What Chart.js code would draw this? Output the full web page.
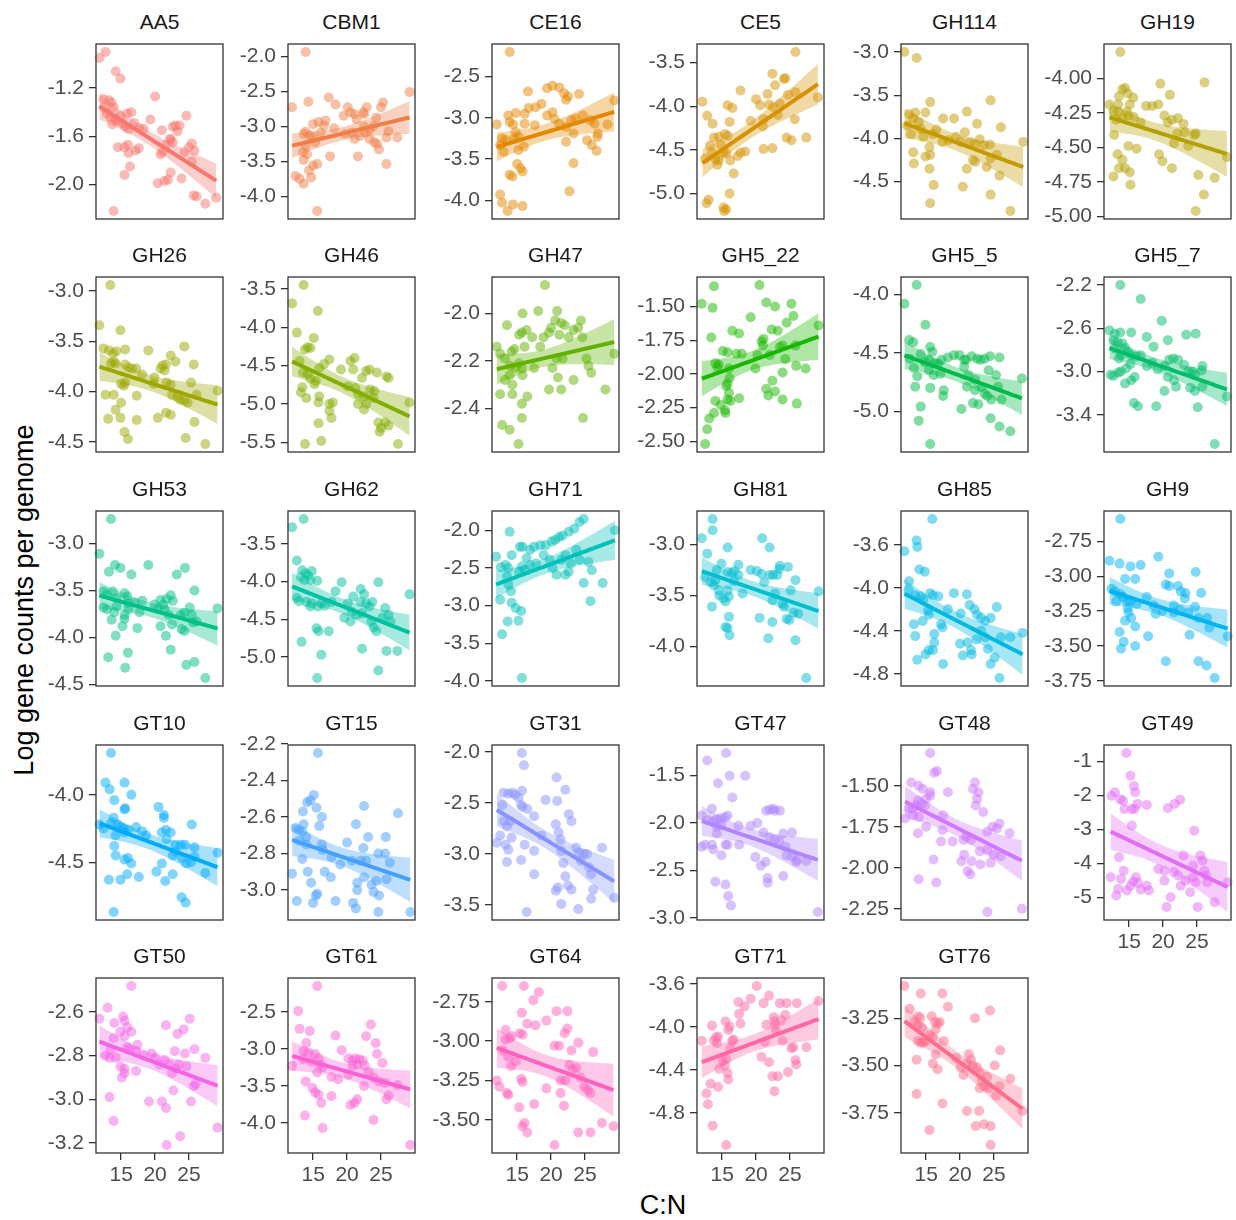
<!DOCTYPE html>
<html lang="en">
<head>
<meta charset="UTF-8">
<title>Log gene counts per genome vs C:N</title>
<script src="https://cdn.jsdelivr.net/npm/chart.js"></script>
<style>
  body { margin: 0; background: #ffffff; font-family: "Liberation Sans", Arial, sans-serif; }
  #page { position: relative; width: 1236px; height: 1220px; overflow: hidden; background: #ffffff; }
  #page canvas { position: absolute; }
  .strip { position: absolute; text-align: center; font-size: 21px; color: #1a1a1a; height: 26px; line-height: 26px; }
  .axis-title { position: absolute; font-size: 27px; color: #000000; white-space: nowrap; transform: translate(-50%, -50%); }
  #ytitle { transform: translate(-50%, -50%) rotate(-90deg); }
</style>
</head>
<body>
<div id="page">
  <div class="axis-title" id="ytitle" style="left:24px; top:600px;">Log gene counts per genome</div>
  <div class="axis-title" style="left:663px; top:1205px;">C:N</div>
</div>
<script>
// gene families, one panel each (facet order)
const panelNames = ['AA5', 'CBM1', 'CE16', 'CE5', 'GH114', 'GH19', 'GH26', 'GH46', 'GH47', 'GH5_22',
  'GH5_5', 'GH5_7', 'GH53', 'GH62', 'GH71', 'GH81', 'GH85', 'GH9', 'GT10', 'GT15', 'GT31', 'GT47',
  'GT48', 'GT49', 'GT50', 'GT61', 'GT64', 'GT71', 'GT76'];

// [C:N, log gene count per genome]
const aa5 = [[11.8,-0.95],[12.7,-0.90],[14.2,-1.06],[14.9,-1.12],[20.0,-1.27],[12.4,-1.29],[13.2,-1.30],[13.6,-1.32],[13.9,-1.36],[12.5,-1.36],[12.9,-1.41],[13.4,-1.44],[14.1,-1.45],[14.9,-1.43],[14.3,-1.47],[13.7,-1.50],[15.2,-1.49],[15.9,-1.41],[16.5,-1.40],[15.6,-1.52],[16.1,-1.54],[16.9,-1.49],[18.3,-1.54],[19.3,-1.46],[17.7,-1.53],[16.0,-1.67],[17.1,-1.72],[17.6,-1.70],[15.5,-1.69],[14.5,-1.69],[16.1,-1.74],[16.3,-1.85],[15.5,-1.92],[21.0,-1.55],[22.2,-1.62],[22.6,-1.52],[23.0,-1.51],[23.6,-1.51],[24.6,-1.43],[22.6,-1.65],[22.3,-1.63],[21.6,-1.67],[21.1,-1.73],[20.4,-1.99],[21.4,-1.97],[22.3,-1.90],[21.9,-1.96],[23.9,-1.95],[24.3,-1.73],[25.0,-1.69],[25.4,-1.66],[25.8,-1.72],[25.4,-1.81],[25.7,-2.09],[26.1,-2.10],[27.4,-2.16],[29.0,-2.11],[13.9,-2.22],[23.3,-1.56],[20.8,-1.75]];
const cbm1 = [[13.9,-1.94],[11.9,-2.73],[14.3,-2.65],[17.3,-2.59],[18.3,-2.69],[20.1,-2.73],[20.5,-2.80],[21.1,-2.83],[21.4,-2.90],[22.5,-2.83],[22.9,-2.73],[22.4,-2.80],[25.3,-2.66],[25.0,-2.73],[29.2,-2.51],[19.5,-2.85],[18.1,-3.03],[16.6,-2.99],[16.8,-2.92],[15.8,-2.94],[15.0,-2.97],[13.9,-3.08],[13.6,-3.11],[14.5,-3.13],[15.0,-3.16],[16.1,-3.09],[15.3,-3.23],[13.9,-3.28],[13.5,-3.37],[14.1,-3.40],[13.6,-3.48],[15.0,-3.56],[15.6,-3.54],[14.4,-3.63],[14.7,-3.73],[12.4,-3.71],[13.0,-3.75],[13.6,-3.82],[15.6,-4.21],[17.5,-3.43],[21.6,-3.43],[21.1,-3.18],[21.9,-3.14],[22.7,-3.09],[23.3,-3.05],[23.9,-3.00],[24.3,-2.88],[22.5,-3.00],[23.3,-3.18],[24.0,-3.23],[24.7,-3.33],[24.4,-3.25],[25.8,-3.16],[27.4,-3.16],[25.8,-3.54],[26.1,-3.07],[20.7,-3.09],[19.7,-3.11]];
const ce16 = [[13.9,-2.20],[12.0,-3.08],[16.6,-2.68],[19.4,-2.64],[20.2,-2.61],[21.2,-2.63],[21.9,-2.70],[22.5,-2.74],[22.2,-2.78],[24.1,-2.71],[16.7,-2.88],[17.7,-2.87],[18.6,-2.83],[14.8,-2.94],[13.7,-2.97],[16.1,-2.95],[13.9,-3.05],[14.4,-3.08],[16.1,-3.07],[17.6,-3.09],[19.4,-2.97],[20.2,-2.93],[20.5,-3.01],[21.2,-3.07],[22.2,-3.11],[23.0,-3.03],[23.6,-3.01],[24.7,-2.97],[25.8,-3.03],[26.4,-3.07],[26.9,-3.19],[28.3,-3.08],[29.3,-2.79],[12.8,-3.25],[13.3,-3.27],[12.5,-3.33],[13.0,-3.41],[14.6,-3.25],[14.8,-3.17],[15.2,-3.23],[16.0,-3.35],[15.2,-3.39],[22.2,-3.29],[23.3,-3.19],[25.3,-3.27],[26.0,-3.33],[26.7,-3.40],[26.8,-3.23],[15.0,-3.56],[15.5,-3.61],[15.8,-3.65],[13.9,-3.69],[14.3,-3.71],[23.3,-3.55],[22.7,-3.89],[12.5,-3.93],[12.8,-4.03],[13.6,-4.13],[14.4,-4.05],[15.8,-4.07]];
const ce5 = [[12.1,-3.95],[12.8,-4.11],[13.6,-4.20],[13.2,-4.45],[13.8,-4.36],[13.5,-4.53],[14.0,-4.60],[14.3,-4.67],[14.5,-4.62],[15.2,-4.53],[14.8,-4.44],[14.5,-4.35],[15.4,-4.32],[15.8,-4.34],[15.8,-3.99],[16.5,-4.02],[16.1,-4.18],[15.6,-4.54],[16.2,-4.62],[16.7,-4.77],[17.3,-4.57],[17.7,-4.53],[18.4,-4.52],[17.7,-3.82],[19.2,-4.17],[20.0,-3.92],[20.6,-3.99],[21.0,-4.23],[21.1,-4.15],[21.7,-3.86],[21.9,-3.98],[22.5,-4.01],[22.4,-3.63],[22.8,-3.76],[23.2,-4.10],[23.5,-3.97],[24.1,-3.69],[24.3,-3.68],[24.7,-3.87],[24.5,-4.36],[25.2,-4.39],[25.7,-4.15],[25.8,-3.84],[25.8,-3.38],[27.4,-4.36],[29.1,-3.90],[21.1,-4.49],[22.4,-4.48],[13.0,-5.07],[12.7,-5.11],[15.2,-5.16],[15.6,-5.18],[15.3,-5.20],[16.1,-5.00],[12.5,-4.60]];
const gh114 = [[11.8,-3.00],[13.6,-3.07],[12.5,-3.72],[13.4,-3.70],[15.6,-3.58],[13.1,-3.77],[13.9,-3.81],[14.9,-3.70],[12.2,-3.85],[12.8,-3.95],[14.2,-3.89],[14.6,-3.98],[16.0,-3.95],[16.5,-3.90],[17.5,-3.77],[19.1,-3.77],[21.0,-3.69],[18.3,-4.02],[20.1,-4.04],[20.7,-3.93],[22.5,-3.83],[21.5,-4.04],[22.2,-4.07],[22.9,-4.01],[23.5,-4.08],[24.4,-4.07],[24.5,-3.56],[26.0,-3.87],[29.3,-4.04],[13.1,-4.16],[13.2,-4.29],[14.9,-4.21],[15.6,-4.19],[15.5,-4.10],[15.5,-4.35],[16.1,-4.54],[15.6,-4.75],[21.0,-4.35],[21.9,-4.25],[22.2,-4.27],[23.9,-4.33],[24.5,-4.23],[25.4,-4.19],[25.8,-4.43],[24.5,-4.65],[20.4,-4.56],[27.4,-4.84],[17.4,-4.04],[19.4,-3.98]];
const gh19 = [[13.7,-3.81],[12.1,-4.19],[12.7,-4.24],[13.5,-4.13],[14.0,-4.08],[14.4,-4.07],[14.8,-4.11],[15.1,-4.19],[15.6,-4.14],[14.7,-4.24],[13.4,-4.24],[14.0,-4.29],[13.1,-4.30],[12.8,-4.41],[14.9,-4.27],[15.7,-4.28],[16.7,-4.32],[17.5,-4.20],[18.4,-4.20],[19.3,-4.19],[19.6,-4.04],[21.0,-4.12],[20.2,-4.27],[20.7,-4.32],[21.3,-4.30],[22.2,-4.29],[23.0,-4.33],[22.1,-4.40],[21.6,-4.47],[23.2,-4.39],[24.6,-4.41],[26.1,-4.03],[24.8,-4.40],[23.7,-4.49],[13.3,-4.55],[14.9,-4.49],[16.1,-4.51],[14.0,-4.59],[14.4,-4.65],[13.5,-4.65],[12.7,-4.71],[15.1,-4.68],[15.2,-4.77],[19.9,-4.60],[19.4,-4.55],[21.3,-4.65],[25.2,-4.70],[26.0,-4.84],[24.8,-4.96],[27.6,-4.72],[29.4,-4.57],[13.4,-4.19]];
const gh26 = [[13.4,-2.94],[11.8,-3.34],[12.4,-3.57],[13.2,-3.59],[13.8,-3.62],[14.3,-3.60],[14.9,-3.39],[15.6,-3.58],[13.5,-3.72],[13.9,-3.70],[14.2,-3.72],[15.6,-3.73],[16.1,-3.76],[16.6,-3.77],[17.2,-3.77],[18.1,-3.83],[19.0,-3.59],[19.9,-3.86],[20.8,-3.77],[21.1,-3.74],[21.4,-3.79],[21.6,-3.73],[22.3,-3.64],[23.0,-3.70],[24.3,-3.55],[25.7,-3.73],[15.0,-3.92],[15.6,-3.91],[15.4,-3.94],[12.7,-4.03],[13.9,-4.03],[15.0,-4.11],[17.3,-4.04],[19.8,-3.92],[21.7,-3.91],[22.3,-3.93],[22.5,-4.03],[23.3,-4.05],[23.7,-4.08],[24.3,-4.09],[24.8,-4.11],[25.3,-3.91],[26.1,-4.03],[29.2,-3.99],[13.1,-4.27],[14.2,-4.18],[14.9,-4.26],[17.3,-4.28],[20.4,-4.26],[21.6,-4.21],[22.3,-4.23],[25.8,-4.30],[15.5,-4.40],[16.0,-4.47],[24.5,-4.46],[27.4,-4.52]];
const gh46 = [[11.9,-3.69],[13.6,-3.45],[12.6,-4.07],[15.7,-3.79],[15.1,-4.14],[13.8,-4.29],[14.2,-4.26],[14.6,-4.27],[13.0,-4.44],[13.5,-4.59],[14.2,-4.61],[14.6,-4.67],[15.4,-4.70],[15.2,-4.74],[15.9,-4.53],[16.6,-4.48],[17.4,-4.42],[13.4,-4.78],[13.2,-4.85],[14.0,-4.92],[15.9,-4.90],[15.8,-4.98],[17.4,-5.00],[17.9,-4.98],[17.4,-5.09],[17.7,-5.18],[15.8,-5.25],[16.2,-5.48],[13.8,-5.52],[19.1,-4.55],[20.9,-4.55],[21.1,-4.40],[20.1,-4.77],[21.2,-4.79],[21.6,-4.87],[21.6,-5.00],[22.5,-4.90],[22.8,-4.57],[23.3,-4.55],[22.2,-4.66],[23.4,-4.81],[23.9,-4.92],[22.8,-5.00],[22.5,-5.07],[24.4,-4.59],[25.8,-4.64],[26.1,-4.66],[24.0,-4.83],[24.6,-5.24],[25.0,-5.31],[25.6,-5.24],[26.1,-5.28],[24.8,-5.36],[27.5,-5.52],[29.2,-4.98],[20.5,-4.44]];
const gh47 = [[19.1,-1.88],[12.0,-2.14],[13.5,-2.05],[12.5,-2.17],[14.2,-2.16],[14.6,-2.15],[15.8,-2.00],[15.7,-2.08],[15.3,-2.09],[16.4,-2.07],[17.2,-2.10],[18.1,-1.99],[16.1,-2.14],[15.3,-2.21],[14.8,-2.23],[14.0,-2.22],[13.2,-2.19],[13.9,-2.26],[13.2,-2.28],[14.3,-2.30],[12.5,-2.34],[14.3,-2.34],[15.7,-2.23],[15.8,-2.26],[16.5,-2.35],[15.7,-2.38],[15.7,-2.44],[12.8,-2.47],[13.9,-2.49],[15.2,-2.55],[17.5,-2.23],[18.4,-2.14],[18.9,-2.10],[19.7,-2.08],[20.0,-2.06],[20.6,-2.03],[20.9,-1.99],[21.5,-2.04],[22.0,-2.05],[21.2,-2.09],[20.8,-2.19],[20.2,-2.23],[21.0,-2.27],[21.7,-2.19],[19.7,-2.32],[21.5,-2.32],[22.6,-2.10],[23.3,-2.07],[24.0,-2.06],[24.4,-2.03],[24.6,-2.10],[25.2,-2.19],[25.5,-2.22],[25.9,-2.25],[24.7,-2.44],[23.3,-2.28],[28.0,-2.32],[29.3,-2.17]];
const gh5_22 = [[12.0,-1.48],[13.8,-1.35],[13.6,-1.51],[20.5,-1.34],[13.4,-1.73],[16.5,-1.68],[17.5,-1.70],[19.2,-1.58],[21.5,-1.47],[22.8,-1.50],[25.2,-1.48],[25.5,-1.57],[24.5,-1.62],[23.2,-1.68],[22.3,-1.67],[21.1,-1.74],[20.8,-1.76],[21.0,-1.79],[20.2,-1.86],[22.0,-1.86],[23.5,-1.80],[23.9,-1.79],[24.3,-1.89],[25.8,-1.79],[25.9,-1.94],[29.2,-1.64],[15.1,-1.83],[15.8,-1.84],[17.1,-1.85],[17.9,-1.85],[14.0,-1.92],[14.3,-1.95],[14.5,-1.93],[16.0,-1.96],[16.1,-2.03],[15.8,-2.07],[15.6,-2.09],[16.0,-2.14],[15.8,-2.19],[14.0,-2.20],[14.8,-2.23],[15.4,-2.27],[16.2,-2.20],[17.5,-2.18],[19.9,-1.96],[22.4,-2.05],[21.5,-2.11],[21.8,-2.16],[22.8,-2.13],[23.9,-2.19],[23.9,-1.99],[26.0,-2.22],[27.3,-1.96],[13.8,-2.29],[13.1,-2.33],[12.8,-2.41],[12.5,-2.52],[15.5,-2.29]];
const gh5_5 = [[11.8,-4.08],[13.6,-3.92],[14.9,-4.26],[12.5,-4.39],[13.1,-4.41],[14.2,-4.51],[15.6,-4.45],[15.9,-4.49],[12.6,-4.55],[13.2,-4.63],[13.7,-4.70],[13.4,-4.79],[14.8,-4.58],[15.4,-4.56],[16.2,-4.59],[16.8,-4.59],[17.3,-4.56],[18.2,-4.54],[19.1,-4.52],[19.9,-4.52],[20.6,-4.56],[20.9,-4.56],[21.7,-4.53],[22.5,-4.55],[23.0,-4.56],[23.6,-4.55],[24.4,-4.53],[25.8,-4.54],[15.4,-4.65],[16.1,-4.69],[17.1,-4.68],[20.6,-4.62],[21.2,-4.69],[22.2,-4.73],[21.0,-4.79],[22.2,-4.82],[23.2,-4.79],[24.2,-4.65],[25.3,-4.69],[25.6,-4.79],[23.6,-4.85],[24.0,-4.87],[24.6,-4.90],[26.1,-4.90],[15.6,-4.80],[17.6,-4.82],[17.5,-4.87],[20.2,-4.98],[21.9,-4.93],[22.7,-4.94],[14.2,-4.96],[13.9,-5.08],[15.6,-5.28],[24.5,-5.06],[25.8,-5.13],[27.4,-5.17],[29.1,-4.72]];
const gh5_7 = [[13.7,-2.20],[16.7,-2.33],[12.1,-2.62],[12.9,-2.65],[13.7,-2.64],[15.3,-2.64],[12.7,-2.71],[13.3,-2.73],[14.0,-2.74],[14.4,-2.78],[14.8,-2.82],[13.0,-2.79],[13.8,-2.85],[13.5,-2.88],[15.3,-2.85],[16.0,-2.86],[16.7,-2.85],[17.6,-2.68],[18.6,-2.77],[19.8,-2.53],[20.7,-2.71],[23.4,-2.66],[24.8,-2.65],[12.7,-3.04],[12.3,-3.03],[13.4,-3.01],[13.8,-3.00],[14.6,-2.97],[15.2,-2.93],[14.4,-3.11],[15.3,-3.08],[15.8,-3.05],[15.7,-3.29],[16.3,-3.32],[17.6,-2.95],[18.4,-2.92],[19.2,-2.98],[20.2,-2.95],[20.9,-2.89],[21.5,-2.88],[22.2,-2.89],[20.7,-3.05],[21.6,-3.08],[21.9,-3.14],[20.2,-3.18],[19.0,-3.32],[23.1,-2.94],[23.7,-3.00],[24.3,-3.00],[24.7,-3.03],[25.7,-2.99],[25.8,-2.95],[24.0,-3.15],[24.7,-3.18],[25.1,-3.33],[25.8,-3.14],[29.4,-3.23],[27.6,-3.67]];
const gh53 = [[11.8,-3.11],[13.5,-2.74],[13.2,-3.30],[14.1,-3.23],[14.9,-3.26],[16.5,-3.33],[19.0,-3.23],[23.2,-3.33],[24.4,-3.26],[25.8,-3.50],[12.4,-3.51],[12.9,-3.54],[13.8,-3.51],[14.3,-3.58],[15.5,-3.53],[15.9,-3.56],[12.4,-3.68],[12.9,-3.70],[14.0,-3.73],[13.6,-3.81],[14.3,-3.67],[16.0,-3.63],[16.1,-3.70],[15.5,-3.76],[15.5,-3.80],[15.2,-3.88],[14.2,-3.98],[17.0,-3.63],[17.7,-3.73],[18.1,-3.61],[19.9,-3.65],[20.4,-3.69],[20.8,-3.60],[21.2,-3.65],[21.7,-3.59],[22.3,-3.55],[22.6,-3.61],[21.4,-3.70],[22.0,-3.76],[20.8,-3.88],[21.6,-3.98],[22.5,-3.86],[23.8,-3.76],[24.3,-3.74],[25.1,-3.68],[25.4,-3.76],[23.9,-3.91],[24.3,-3.93],[25.6,-3.84],[26.1,-3.83],[29.2,-3.69],[17.4,-3.90],[13.1,-4.21],[16.0,-4.16],[15.6,-4.32],[22.3,-4.13],[24.6,-4.29],[25.8,-4.26],[27.4,-4.43]];
const gh62 = [[11.9,-3.28],[13.6,-3.17],[12.6,-3.72],[13.4,-3.85],[13.9,-3.89],[14.3,-3.92],[14.8,-3.86],[13.2,-3.94],[13.7,-3.98],[14.6,-3.98],[15.6,-3.99],[12.6,-4.22],[12.9,-4.26],[14.0,-4.27],[14.8,-4.29],[14.6,-4.33],[15.7,-4.33],[16.2,-4.29],[16.7,-4.32],[17.7,-4.27],[18.3,-4.13],[19.2,-4.01],[20.1,-4.29],[20.9,-4.20],[22.0,-4.10],[22.5,-4.17],[22.0,-4.27],[22.8,-4.29],[23.3,-4.33],[23.7,-4.27],[24.6,-4.01],[25.6,-4.35],[26.1,-4.44],[26.4,-4.53],[29.2,-4.17],[20.7,-4.40],[21.4,-4.44],[22.2,-4.42],[23.6,-4.53],[23.9,-4.61],[24.3,-4.66],[25.2,-4.48],[19.6,-4.48],[20.5,-4.53],[15.5,-4.62],[15.8,-4.66],[17.3,-4.66],[13.3,-4.80],[16.2,-4.97],[22.2,-4.89],[25.8,-4.92],[27.4,-4.92],[24.6,-5.18],[15.6,-5.28]];
const gh71 = [[11.9,-2.35],[13.9,-2.02],[12.6,-2.49],[13.3,-2.46],[13.7,-2.50],[14.2,-2.33],[13.5,-2.61],[13.7,-2.72],[14.1,-2.81],[12.5,-2.92],[14.2,-2.96],[14.8,-3.03],[15.6,-3.07],[15.2,-3.20],[13.6,-3.21],[12.8,-3.38],[15.7,-3.96],[15.3,-2.55],[15.7,-2.48],[15.4,-2.22],[15.8,-2.22],[16.4,-2.37],[16.9,-2.26],[17.5,-2.22],[18.4,-2.20],[19.2,-2.20],[20.1,-2.15],[20.6,-2.13],[21.2,-2.09],[21.7,-2.07],[22.6,-2.02],[23.4,-1.98],[24.2,-1.89],[24.8,-1.85],[16.9,-2.46],[16.1,-2.53],[17.8,-2.44],[18.9,-2.33],[19.8,-2.39],[20.2,-2.50],[20.8,-2.59],[21.5,-2.39],[22.1,-2.33],[22.1,-2.59],[22.6,-2.55],[22.9,-2.44],[23.7,-2.26],[24.2,-2.39],[25.5,-2.42],[26.0,-2.53],[24.8,-2.70],[25.8,-2.94],[27.6,-2.70],[29.4,-2.00]];
const gh81 = [[12.0,-2.94],[13.6,-2.75],[13.6,-2.86],[12.8,-3.09],[15.8,-3.03],[20.9,-2.94],[22.0,-3.03],[12.5,-3.32],[13.3,-3.37],[13.8,-3.40],[14.0,-3.35],[14.2,-3.25],[14.9,-3.19],[15.8,-3.27],[16.4,-3.28],[16.8,-3.26],[17.4,-3.20],[17.4,-3.30],[19.2,-3.25],[20.1,-3.26],[20.8,-3.29],[21.2,-3.37],[22.0,-3.30],[22.5,-3.30],[23.1,-3.30],[23.4,-3.24],[24.7,-3.22],[23.5,-3.21],[14.5,-3.45],[15.2,-3.53],[15.8,-3.45],[16.0,-3.51],[15.5,-3.56],[14.6,-3.50],[18.0,-3.48],[16.7,-3.36],[22.8,-3.48],[22.4,-3.55],[23.9,-3.58],[24.1,-3.61],[25.1,-3.45],[25.5,-3.67],[26.2,-3.68],[25.8,-3.35],[24.5,-3.73],[24.9,-3.74],[22.4,-3.76],[20.5,-3.72],[13.5,-3.61],[16.0,-3.71],[15.5,-3.81],[15.8,-3.82],[16.1,-3.89],[21.8,-3.92],[25.8,-3.94],[27.4,-4.31],[29.2,-3.46]];
const gh85 = [[11.8,-3.66],[13.6,-3.56],[13.7,-3.62],[15.9,-3.36],[12.5,-3.94],[14.0,-3.83],[14.8,-3.85],[12.4,-4.02],[13.4,-4.07],[14.2,-4.08],[14.6,-4.11],[15.6,-4.05],[16.0,-4.07],[16.8,-4.08],[18.2,-4.20],[19.1,-4.05],[21.0,-4.06],[21.4,-4.16],[20.1,-4.24],[22.1,-4.20],[22.5,-4.25],[23.1,-4.28],[23.7,-4.31],[24.5,-4.28],[25.4,-4.18],[15.3,-4.21],[15.4,-4.25],[17.2,-4.34],[17.4,-4.37],[13.2,-4.34],[13.4,-4.45],[14.5,-4.31],[16.2,-4.43],[16.2,-4.51],[15.4,-4.58],[16.0,-4.58],[14.9,-4.62],[13.7,-4.67],[17.5,-4.71],[20.4,-4.63],[21.1,-4.51],[21.6,-4.58],[21.7,-4.62],[22.4,-4.48],[23.1,-4.40],[23.7,-4.46],[24.1,-4.57],[24.5,-4.71],[25.1,-4.65],[26.0,-4.46],[27.4,-4.46],[29.2,-4.42],[25.8,-4.84],[20.0,-4.52]];
const gh9 = [[12.1,-2.89],[13.7,-2.59],[13.6,-2.91],[15.2,-2.93],[16.7,-2.92],[19.3,-2.86],[14.4,-3.02],[15.9,-3.02],[20.9,-2.98],[24.8,-2.97],[12.4,-3.09],[12.9,-3.11],[13.7,-3.13],[13.1,-3.18],[14.1,-3.15],[14.7,-3.18],[15.2,-3.18],[16.1,-3.20],[17.6,-3.15],[18.6,-3.21],[20.4,-3.06],[20.9,-3.07],[21.6,-3.21],[22.2,-3.07],[22.6,-3.11],[23.2,-3.16],[23.3,-3.12],[25.6,-3.12],[21.6,-3.26],[22.5,-3.24],[23.7,-3.26],[24.7,-3.22],[25.2,-3.30],[26.5,-3.30],[19.9,-3.25],[18.9,-3.27],[14.8,-3.23],[14.9,-3.26],[15.3,-3.30],[15.9,-3.36],[14.4,-3.32],[13.6,-3.40],[14.2,-3.47],[13.8,-3.52],[15.9,-3.50],[17.8,-3.43],[20.4,-3.61],[23.9,-3.42],[25.2,-3.61],[26.4,-3.64],[27.6,-3.73],[29.5,-3.43],[26.8,-3.37]];
const gt10 = [[13.5,-3.69],[12.7,-3.91],[13.3,-3.96],[14.0,-4.04],[15.5,-3.91],[16.5,-4.00],[15.6,-4.10],[15.5,-4.11],[11.8,-4.22],[12.4,-4.25],[13.5,-4.21],[13.9,-4.17],[14.5,-4.22],[14.9,-4.24],[15.4,-4.25],[15.5,-4.28],[16.0,-4.26],[17.2,-4.24],[18.1,-4.27],[18.7,-4.30],[20.5,-4.09],[21.3,-4.17],[21.3,-4.15],[21.6,-4.26],[22.3,-4.28],[21.0,-4.28],[21.7,-4.33],[23.0,-4.37],[23.8,-4.37],[24.4,-4.37],[25.4,-4.22],[25.8,-4.39],[24.0,-4.47],[24.6,-4.51],[25.3,-4.50],[25.8,-4.46],[22.6,-4.45],[23.0,-4.42],[14.2,-4.30],[14.0,-4.38],[14.2,-4.45],[15.5,-4.48],[16.0,-4.47],[16.5,-4.51],[15.9,-4.59],[14.9,-4.63],[13.2,-4.63],[17.6,-4.61],[20.2,-4.57],[21.0,-4.51],[21.5,-4.64],[22.6,-4.59],[23.9,-4.76],[24.5,-4.80],[27.4,-4.58],[29.2,-4.43],[13.9,-4.87]];
const gt15 = [[15.7,-2.25],[11.9,-2.91],[12.6,-3.06],[12.4,-2.66],[12.9,-2.67],[13.6,-2.64],[13.4,-2.68],[14.0,-2.71],[13.0,-2.73],[13.5,-2.57],[14.1,-2.52],[14.6,-2.51],[15.1,-2.48],[15.5,-2.55],[16.3,-2.60],[15.9,-2.65],[13.4,-2.83],[14.0,-2.75],[14.2,-2.90],[14.7,-2.96],[15.6,-3.02],[15.4,-3.03],[15.0,-3.07],[16.3,-2.75],[16.4,-2.78],[16.7,-2.90],[17.6,-2.93],[17.7,-2.82],[18.3,-3.06],[19.0,-2.86],[20.0,-2.74],[20.7,-2.84],[21.3,-2.64],[20.9,-3.07],[21.3,-3.10],[21.5,-2.96],[22.0,-2.84],[22.4,-2.77],[22.5,-2.93],[22.8,-2.84],[23.1,-2.71],[22.5,-2.54],[23.6,-2.97],[23.9,-3.01],[24.3,-2.95],[24.7,-3.03],[24.6,-2.80],[25.6,-2.80],[25.7,-2.71],[25.8,-2.94],[26.3,-2.85],[24.6,-3.12],[27.5,-2.58],[29.3,-3.12],[21.5,-3.00]];
const gt31 = [[12.0,-2.89],[12.8,-2.52],[13.0,-2.40],[13.7,-2.41],[14.3,-2.40],[14.7,-2.42],[15.2,-2.45],[15.7,-2.38],[15.6,-2.52],[15.8,-2.54],[16.5,-2.56],[17.5,-2.63],[19.2,-2.47],[15.7,-2.01],[16.0,-2.13],[13.0,-2.68],[13.5,-2.73],[14.0,-2.68],[12.5,-2.82],[13.3,-2.91],[13.7,-2.96],[13.5,-3.08],[14.2,-2.84],[15.6,-3.06],[16.1,-2.91],[17.5,-2.97],[17.5,-3.20],[18.6,-2.82],[20.8,-2.25],[22.1,-2.37],[22.6,-2.61],[20.9,-2.48],[23.0,-2.68],[20.7,-2.71],[21.1,-2.79],[21.4,-2.86],[21.5,-2.97],[21.8,-3.09],[22.1,-3.22],[22.5,-3.31],[23.0,-3.35],[21.0,-3.33],[20.7,-3.36],[21.5,-3.49],[23.7,-2.94],[24.1,-2.99],[24.4,-3.07],[24.8,-3.00],[25.3,-3.00],[25.6,-3.13],[25.9,-3.20],[26.2,-3.35],[25.9,-3.44],[24.0,-3.54],[16.4,-3.57],[27.5,-2.94],[29.3,-3.43]];
const gt47 = [[12.8,-1.34],[15.6,-1.26],[14.4,-1.58],[16.1,-1.50],[18.4,-1.50],[16.5,-1.73],[13.5,-1.85],[12.0,-1.92],[12.9,-1.97],[13.7,-1.98],[14.2,-1.96],[14.8,-1.95],[15.4,-1.94],[15.8,-1.92],[14.2,-2.04],[14.9,-2.01],[17.4,-2.03],[19.2,-2.03],[20.2,-2.00],[21.5,-1.87],[22.0,-1.86],[22.5,-1.85],[22.8,-1.87],[23.5,-1.87],[21.1,-2.10],[22.0,-2.15],[22.8,-2.17],[23.4,-2.19],[24.0,-2.11],[25.3,-2.10],[24.3,-2.25],[24.5,-2.34],[25.3,-2.35],[26.0,-2.39],[25.9,-2.41],[27.4,-2.40],[12.5,-2.23],[13.5,-2.23],[13.7,-2.28],[14.2,-2.11],[15.5,-2.23],[15.8,-2.23],[17.5,-2.23],[14.9,-2.34],[19.9,-2.36],[20.7,-2.45],[21.4,-2.41],[21.7,-2.58],[21.7,-2.63],[24.0,-2.56],[14.0,-2.62],[15.5,-2.65],[15.9,-2.77],[16.3,-2.87],[29.1,-2.94],[12.0,-2.25]];
const gt48 = [[15.6,-1.30],[16.2,-1.42],[16.6,-1.41],[12.8,-1.48],[13.9,-1.50],[14.5,-1.52],[15.6,-1.54],[15.6,-1.56],[15.0,-1.58],[18.2,-1.54],[11.9,-1.70],[12.4,-1.64],[13.0,-1.64],[13.5,-1.62],[13.8,-1.59],[14.3,-1.61],[14.8,-1.62],[13.1,-1.68],[13.9,-1.69],[15.0,-1.75],[13.8,-1.79],[17.5,-1.68],[17.4,-1.77],[17.2,-1.84],[18.9,-1.84],[16.1,-1.95],[22.2,-1.48],[21.9,-1.52],[22.7,-1.54],[22.5,-1.58],[22.3,-1.62],[23.4,-1.66],[20.9,-1.81],[20.5,-1.83],[21.6,-1.83],[24.0,-1.78],[24.8,-1.75],[25.8,-1.73],[25.4,-1.76],[27.3,-1.79],[22.9,-1.90],[24.0,-1.89],[25.0,-1.92],[26.0,-1.93],[20.2,-1.96],[20.6,-1.92],[21.7,-1.96],[21.1,-2.02],[21.5,-2.04],[23.0,-1.98],[24.5,-1.97],[13.9,-2.07],[16.5,-2.09],[24.0,-2.27],[29.1,-2.25]];
const gt49 = [[14.6,-0.75],[15.2,-1.42],[15.7,-1.72],[15.9,-1.91],[12.9,-1.91],[12.4,-2.01],[13.7,-2.11],[14.1,-2.16],[14.3,-2.40],[15.4,-2.40],[15.8,-2.40],[16.2,-2.25],[17.6,-2.28],[20.7,-2.37],[21.7,-2.25],[22.5,-2.13],[15.4,-2.89],[24.6,-3.04],[13.5,-3.82],[14.2,-4.22],[12.3,-4.41],[13.8,-4.46],[13.4,-4.75],[14.7,-4.80],[15.2,-4.66],[15.6,-4.54],[16.0,-4.41],[16.3,-4.58],[16.7,-4.77],[17.6,-4.66],[17.9,-4.80],[13.1,-4.95],[19.3,-4.17],[20.2,-4.22],[20.2,-4.51],[20.5,-5.29],[21.1,-5.00],[21.6,-4.26],[22.2,-4.36],[22.6,-4.66],[23.3,-4.51],[23.0,-3.77],[24.0,-4.85],[24.4,-4.41],[24.8,-4.56],[25.1,-5.29],[25.5,-3.77],[25.8,-3.92],[26.1,-4.22],[26.4,-4.36],[26.5,-4.56],[27.6,-5.15],[29.5,-4.56],[24.4,-4.07]];
const gt50 = [[11.8,-2.63],[13.0,-2.58],[16.5,-2.48],[14.0,-2.65],[15.3,-2.62],[15.5,-2.64],[15.9,-2.67],[16.5,-2.69],[14.9,-2.69],[15.5,-2.71],[13.9,-2.72],[13.5,-2.77],[12.7,-2.80],[13.3,-2.81],[14.2,-2.81],[14.9,-2.85],[15.5,-2.86],[15.9,-2.76],[16.2,-2.77],[17.4,-2.75],[17.2,-2.78],[18.3,-2.80],[17.2,-2.87],[15.5,-2.88],[15.1,-2.90],[13.3,-2.99],[13.9,-3.10],[20.0,-2.81],[20.6,-2.84],[21.4,-2.82],[21.6,-2.66],[22.1,-2.84],[22.5,-2.88],[22.9,-2.78],[23.1,-2.86],[23.3,-2.70],[23.5,-2.84],[24.2,-2.68],[24.4,-2.79],[24.6,-2.85],[25.1,-2.63],[25.8,-2.77],[25.7,-2.94],[26.0,-2.93],[27.4,-2.81],[19.1,-3.01],[21.0,-3.01],[21.6,-3.04],[22.7,-2.96],[25.3,-3.01],[23.7,-3.17],[21.7,-3.21],[29.2,-3.13],[19.5,-2.79]];
const gt61 = [[11.9,-3.23],[12.8,-2.49],[13.0,-2.73],[14.5,-2.76],[15.6,-2.15],[14.0,-2.92],[13.6,-3.03],[13.5,-3.14],[14.3,-3.05],[14.7,-3.17],[15.3,-3.07],[15.8,-3.13],[16.0,-3.21],[16.4,-3.25],[15.6,-3.32],[14.9,-3.53],[13.9,-3.44],[15.3,-3.59],[15.8,-3.62],[16.2,-3.73],[13.8,-3.90],[16.4,-4.07],[17.7,-3.38],[17.7,-3.64],[18.3,-2.82],[19.2,-3.02],[20.2,-3.13],[20.8,-3.16],[21.2,-3.13],[21.8,-3.14],[22.3,-3.16],[21.5,-3.21],[20.8,-3.23],[20.5,-3.76],[21.1,-3.73],[21.5,-3.68],[22.6,-3.23],[22.5,-3.50],[22.8,-2.83],[23.5,-2.67],[23.2,-3.32],[23.9,-3.39],[24.2,-2.92],[24.4,-3.07],[24.7,-3.44],[25.2,-3.19],[25.6,-3.46],[25.8,-3.68],[26.1,-3.63],[27.4,-3.49],[23.9,-3.96],[29.3,-4.30],[18.7,-3.41],[20.2,-3.35]];
const gt64 = [[12.0,-3.25],[12.8,-2.65],[16.0,-2.65],[18.2,-2.69],[17.4,-2.74],[15.7,-2.82],[20.8,-2.81],[16.5,-2.89],[17.7,-2.90],[19.3,-2.87],[13.3,-2.93],[13.9,-2.98],[14.2,-2.97],[13.3,-2.99],[12.9,-3.06],[13.7,-3.10],[14.1,-3.16],[14.8,-3.13],[15.4,-2.95],[15.8,-2.96],[12.4,-3.29],[13.7,-3.34],[13.5,-3.33],[15.6,-3.24],[15.8,-3.26],[15.3,-3.42],[15.8,-3.54],[16.1,-3.52],[16.5,-3.58],[17.5,-3.40],[20.5,-3.03],[21.2,-3.03],[22.0,-2.95],[22.4,-2.92],[22.4,-2.81],[23.0,-3.06],[24.0,-3.01],[22.7,-3.15],[23.2,-3.18],[23.7,-3.17],[21.4,-3.25],[22.1,-3.25],[21.4,-3.33],[21.9,-3.41],[24.3,-3.23],[24.9,-3.29],[25.4,-3.31],[25.8,-3.33],[26.2,-3.07],[24.0,-3.58],[25.8,-3.58],[27.5,-3.52],[29.2,-3.54],[20.5,-3.66],[19.3,-3.30]];
const gt71 = [[12.0,-4.13],[12.7,-4.62],[12.9,-4.72],[13.3,-4.53],[13.5,-3.99],[13.8,-4.13],[14.1,-4.10],[14.3,-4.15],[14.4,-4.09],[14.6,-4.39],[14.4,-4.56],[13.6,-4.92],[15.1,-4.32],[15.4,-4.36],[15.6,-4.30],[15.8,-4.43],[15.9,-4.49],[15.5,-3.95],[15.9,-4.03],[16.1,-4.00],[16.2,-4.20],[16.5,-4.13],[16.7,-4.12],[15.6,-5.10],[17.4,-3.77],[17.5,-3.88],[17.7,-3.97],[18.3,-3.81],[19.2,-3.74],[20.1,-3.62],[21.1,-3.78],[20.8,-4.28],[21.3,-4.14],[21.9,-3.71],[21.5,-3.98],[21.9,-4.33],[22.4,-4.46],[22.6,-3.91],[22.7,-3.95],[22.8,-3.98],[22.9,-4.04],[22.7,-4.60],[23.2,-4.46],[23.5,-3.78],[23.7,-3.94],[23.9,-4.13],[24.3,-3.89],[24.5,-3.78],[24.7,-4.42],[25.2,-4.20],[25.5,-4.19],[25.8,-4.31],[25.9,-4.35],[26.0,-3.78],[27.4,-4.19],[29.2,-3.76]];
const gt76 = [[11.8,-3.08],[12.6,-3.20],[14.2,-3.12],[17.4,-3.12],[18.2,-3.19],[13.8,-3.24],[14.1,-3.25],[13.3,-3.27],[13.7,-3.29],[14.4,-3.30],[15.8,-3.24],[16.3,-3.27],[16.7,-3.28],[17.0,-3.27],[16.4,-3.31],[15.5,-3.34],[16.0,-3.35],[13.8,-3.37],[14.2,-3.38],[14.6,-3.38],[15.0,-3.37],[17.6,-3.37],[13.6,-3.47],[16.4,-3.44],[16.0,-3.49],[16.7,-3.52],[13.6,-3.65],[17.4,-3.70],[15.5,-3.84],[19.4,-3.46],[20.1,-3.51],[20.5,-3.55],[21.0,-3.49],[21.3,-3.44],[21.6,-3.47],[21.9,-3.50],[22.2,-3.25],[22.5,-3.51],[22.9,-3.54],[23.2,-3.58],[22.9,-3.62],[23.6,-3.61],[24.0,-3.56],[24.2,-3.62],[24.4,-3.21],[25.1,-3.50],[25.3,-3.66],[25.8,-3.61],[25.9,-3.42],[27.4,-3.57],[29.2,-3.74],[21.0,-3.74],[22.8,-3.74],[22.3,-3.82],[23.5,-3.81],[24.5,-3.82],[24.5,-3.92]];

const panelPoints = [aa5, cbm1, ce16, ce5, gh114, gh19, gh26, gh46, gh47, gh5_22, gh5_5, gh5_7,
  gh53, gh62, gh71, gh81, gh85, gh9, gt10, gt15, gt31, gt47, gt48, gt49, gt50, gt61, gt64, gt71, gt76];

// y tick labels per panel (free y scales)
const yTickLabels = [
  ['-1.2', '-1.6', '-2.0'],
  ['-2.0', '-2.5', '-3.0', '-3.5', '-4.0'],
  ['-2.5', '-3.0', '-3.5', '-4.0'],
  ['-3.5', '-4.0', '-4.5', '-5.0'],
  ['-3.0', '-3.5', '-4.0', '-4.5'],
  ['-4.00', '-4.25', '-4.50', '-4.75', '-5.00'],
  ['-3.0', '-3.5', '-4.0', '-4.5'],
  ['-3.5', '-4.0', '-4.5', '-5.0', '-5.5'],
  ['-2.0', '-2.2', '-2.4'],
  ['-1.50', '-1.75', '-2.00', '-2.25', '-2.50'],
  ['-4.0', '-4.5', '-5.0'],
  ['-2.2', '-2.6', '-3.0', '-3.4'],
  ['-3.0', '-3.5', '-4.0', '-4.5'],
  ['-3.5', '-4.0', '-4.5', '-5.0'],
  ['-2.0', '-2.5', '-3.0', '-3.5', '-4.0'],
  ['-3.0', '-3.5', '-4.0'],
  ['-3.6', '-4.0', '-4.4', '-4.8'],
  ['-2.75', '-3.00', '-3.25', '-3.50', '-3.75'],
  ['-4.0', '-4.5'],
  ['-2.2', '-2.4', '-2.6', '-2.8', '-3.0'],
  ['-2.0', '-2.5', '-3.0', '-3.5'],
  ['-1.5', '-2.0', '-2.5', '-3.0'],
  ['-1.50', '-1.75', '-2.00', '-2.25'],
  ['-1', '-2', '-3', '-4', '-5'],
  ['-2.6', '-2.8', '-3.0', '-3.2'],
  ['-2.5', '-3.0', '-3.5', '-4.0'],
  ['-2.75', '-3.00', '-3.25', '-3.50'],
  ['-3.6', '-4.0', '-4.4', '-4.8'],
  ['-3.25', '-3.50', '-3.75']
];
const xTickLabels = ['15', '20', '25'];
const xLimits = [11.3, 30.0];

// panel box geometry
const colLeft = [96, 288, 492, 697, 901, 1104];
const rowTop = [44, 277, 511, 745, 978];
const boxW = 127, boxH = 175;
const padL = 95, padT = 20, padR = 15, padB = 50;

Chart.defaults.font.family = '"Liberation Sans", Arial, sans-serif';

// ggplot2 hue_pal(): hcl(h, c = 100, l = 65)
function hueColour(i, n) {
  const h = (15 + 360 * i / n) * Math.PI / 180;
  const L = 65, C = 100;
  const Xn = 95.047, Yn = 100, Zn = 108.883;
  const den = Xn + 15 * Yn + 3 * Zn;
  const un = 4 * Xn / den, vn = 9 * Yn / den;
  const Y = Yn * Math.pow((L + 16) / 116, 3);
  const u = C * Math.cos(h) / (13 * L) + un;
  const v = C * Math.sin(h) / (13 * L) + vn;
  const X = 9 * Y * u / (4 * v);
  const Z = -X / 3 - 5 * Y + 3 * Y / v;
  const lin = [
    3.240479 * X - 1.537150 * Y - 0.498535 * Z,
    -0.969256 * X + 1.875992 * Y + 0.041556 * Z,
    0.055648 * X - 0.204043 * Y + 1.057311 * Z
  ].map(c => c / 100);
  return lin.map(c => {
    c = c <= 0.0031308 ? 12.92 * c : 1.055 * Math.pow(c, 1 / 2.4) - 0.055;
    return Math.round(255 * Math.min(1, Math.max(0, c)));
  });
}
const rgba = (c, a) => `rgba(${c[0]},${c[1]},${c[2]},${a})`;

// lm fit with 95% confidence band, like geom_smooth(method = "lm")
function lmBand(pts) {
  const n = pts.length;
  let mx = 0, my = 0;
  pts.forEach(p => { mx += p[0]; my += p[1]; });
  mx /= n; my /= n;
  let sxx = 0, sxy = 0;
  pts.forEach(p => { sxx += (p[0] - mx) ** 2; sxy += (p[0] - mx) * (p[1] - my); });
  const b = sxy / sxx, a = my - b * mx;
  let sse = 0;
  pts.forEach(p => { sse += (p[1] - a - b * p[0]) ** 2; });
  const s = Math.sqrt(sse / (n - 2));
  const t = 1.96 + 2.4 / (n - 2);
  const xs = pts.map(p => p[0]);
  const x0 = Math.min(...xs), x1 = Math.max(...xs);
  const line = [], lo = [], hi = [];
  for (let k = 0; k <= 80; k++) {
    const x = x0 + (x1 - x0) * k / 80;
    const yh = a + b * x;
    const se = s * Math.sqrt(1 / n + (x - mx) ** 2 / sxx);
    line.push({ x, y: yh });
    lo.push({ x, y: yh - t * se });
    hi.push({ x, y: yh + t * se });
  }
  return { line, lo, hi };
}

const panelBox = {
  id: 'panelBox',
  afterDraw(chart) {
    const { ctx, chartArea: a } = chart;
    ctx.save();
    ctx.strokeStyle = '#333333';
    ctx.lineWidth = 1.3;
    ctx.strokeRect(a.left, a.top, a.right - a.left, a.bottom - a.top);
    ctx.restore();
  }
};

const page = document.getElementById('page');

panelNames.forEach((name, i) => {
  const col = i % 6, row = Math.floor(i / 6);
  const left = colLeft[col], top = rowTop[row];
  const showX = i >= 23;
  const pts = panelPoints[i];
  const colour = hueColour(i, panelNames.length);
  const fit = lmBand(pts);

  // y limits: data + ribbon, expanded by 5% like ggplot
  const ys = pts.map(p => p[1]).concat(fit.lo.map(p => p.y), fit.hi.map(p => p.y));
  const yMin = Math.min(...ys), yMax = Math.max(...ys);
  const ex = (yMax - yMin) * 0.05;

  const strip = document.createElement('div');
  strip.className = 'strip';
  strip.style.left = left + 'px';
  strip.style.width = boxW + 'px';
  strip.style.top = (top - 35) + 'px';
  strip.textContent = name;
  page.appendChild(strip);

  const canvas = document.createElement('canvas');
  canvas.width = padL + boxW + padR;
  canvas.height = padT + boxH + padB;
  canvas.style.left = (left - padL) + 'px';
  canvas.style.top = (top - padT) + 'px';
  page.appendChild(canvas);

  const tickFont = { size: 21 };
  const tickGrid = { display: true, drawOnChartArea: false, drawTicks: true, tickLength: 7, color: '#333333', lineWidth: 1.3 };
  const labels = yTickLabels[i];

  new Chart(canvas, {
    type: 'scatter',
    data: {
      datasets: [
        { type: 'line', data: fit.lo, borderColor: 'rgba(0,0,0,0)', borderWidth: 0, pointRadius: 0, fill: false, order: 2 },
        { type: 'line', data: fit.hi, borderColor: 'rgba(0,0,0,0)', borderWidth: 0, pointRadius: 0, fill: '-1', backgroundColor: rgba(colour, 0.35), order: 2 },
        { type: 'line', data: fit.line, borderColor: rgba(colour, 1), borderWidth: 4, pointRadius: 0, fill: false, order: 1 },
        { data: pts.map(p => ({ x: p[0], y: p[1] })), backgroundColor: rgba(colour, 0.5), borderWidth: 0, pointRadius: 5, order: 3, clip: false }
      ]
    },
    options: {
      responsive: false,
      animation: false,
      devicePixelRatio: 1,
      layout: { padding: { left: 0, top: padT, right: padR, bottom: showX ? 0 : padB } },
      plugins: { legend: { display: false }, tooltip: { enabled: false } },
      scales: {
        x: {
          type: 'linear', position: 'bottom', display: showX,
          min: xLimits[0], max: xLimits[1],
          afterBuildTicks: s => { s.ticks = xTickLabels.map(v => ({ value: parseFloat(v) })); },
          afterFit: s => { s.height = showX ? padB : 0; s.paddingLeft = 0; s.paddingRight = 0; },
          grid: tickGrid,
          border: { display: false },
          ticks: { font: tickFont, color: '#4d4d4d', padding: 3, autoSkip: false, maxRotation: 0, callback: (v, k) => xTickLabels[k] }
        },
        y: {
          type: 'linear', position: 'left',
          min: yMin - ex, max: yMax + ex,
          afterBuildTicks: s => { s.ticks = labels.map(v => ({ value: parseFloat(v) })); },
          afterFit: s => { s.width = padL; s.paddingTop = 0; s.paddingBottom = 0; },
          grid: tickGrid,
          border: { display: false },
          ticks: { font: tickFont, color: '#4d4d4d', padding: 5, autoSkip: false, callback: (v, k) => labels[k] }
        }
      }
    },
    plugins: [panelBox]
  });
});
</script>
</body>
</html>
